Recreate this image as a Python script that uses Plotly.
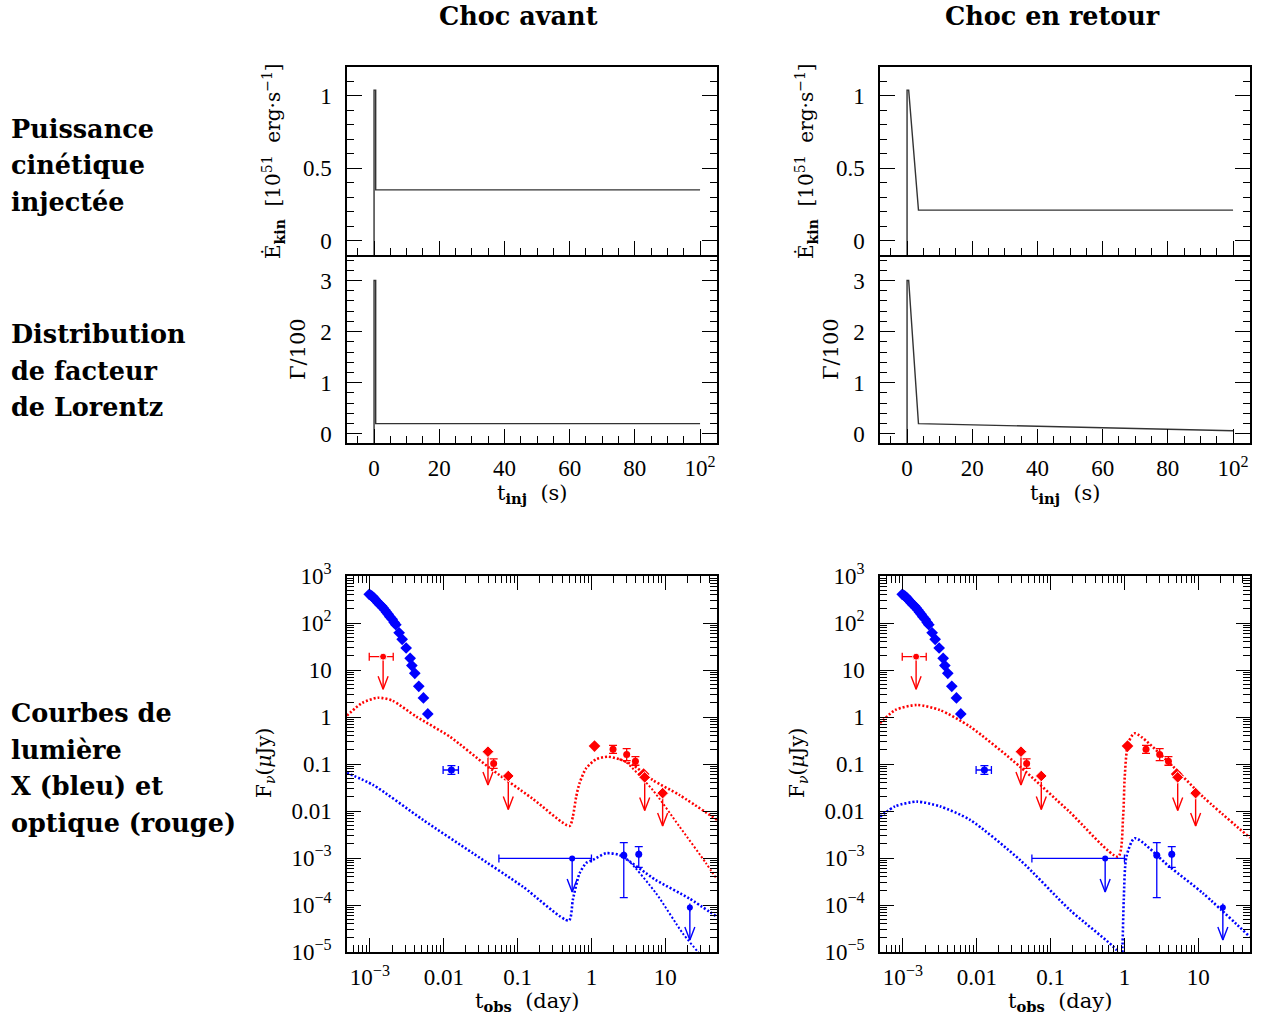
import numpy as np
import plotly.graph_objects as go

W, H = 1261, 1020
FONT = "DejaVu Serif"
TICKFONT = "Liberation Serif"
RED, BLUE, GREY = "#ff0000", "#0000ff", "#333333"

# ---------------- injection profiles (t_inj in s) ----------------
tinj_fwd = [0, 0, 0.5, 0.5, 100]
ekin_fwd = [-0.1, 1.04, 1.04, 0.35, 0.35]
gam_fwd = [-0.18, 3.0, 3.0, 0.2, 0.2]

tinj_rev = [0, 0, 0.5, 3.5, 100]
ekin_rev = [-0.1, 1.04, 1.04, 0.21, 0.21]
gam_rev = [-0.18, 3.0, 3.0, 0.2, 0.06]

# ---------------- light-curve data (t in day, F in microJy) ----------------
xray_t = [0.000980, 0.001023, 0.001064, 0.001122, 0.001170, 0.001230, 0.001297,
          0.001365, 0.001439, 0.001514, 0.001596, 0.001679, 0.001770, 0.001862,
          0.002004, 0.002133, 0.002244, 0.002489, 0.002735, 0.003097, 0.003508,
          0.003698, 0.004055, 0.004592, 0.005309, 0.006081]
xray_f = [407, 389, 375, 347, 319, 295, 267, 245, 230, 209, 189, 170, 153, 136,
          120, 103, 92, 62, 45, 29.4, 17.7, 12.4, 8.5, 4.5, 2.54, 1.16]

# X-ray detections with error bars
xdet_t = [0.0127, 2.74, 4.37]
xdet_f = [0.0745, 1.14e-3, 1.20e-3]
xdet_fhi = [0.0920, 2.12e-3, 1.74e-3]
xdet_flo = [0.0604, 1.43e-4, 6.3e-4]
xdet_thi = [0.0158, 2.74, 4.37]
xdet_tlo = [0.0098, 2.74, 4.37]

# X-ray upper limits
xul_t = [0.548, 21.5]
xul_f = [9.8e-4, 8.9e-5]
xul_tip = [1.9e-4, 1.8e-5]
xul_tlo = [0.0558, 21.5]
xul_thi = [1.0, 21.5]

# optical detections (circles with error bars)
odet_t = [0.0474, 1.96, 3.0, 3.94]
odet_f = [0.103, 0.205, 0.160, 0.114]
odet_fhi = [0.128, 0.250, 0.212, 0.143]
odet_flo = [0.081, 0.169, 0.118, 0.094]
# optical detections (diamonds)
odia_t = [1.10, 5.09]
odia_f = [0.241, 0.061]

# optical upper limits
oul_t = [0.00151, 0.0397, 0.0748, 5.26, 9.2]
oul_f = [19.2, 0.183, 0.0556, 0.052, 0.024]
oul_tip = [3.9, 0.0357, 0.0108, 0.0102, 0.0048]
oul_tlo = [0.00098, 0.0397, 0.0748, 5.26, 9.2]
oul_thi = [0.00207, 0.0397, 0.0748, 5.26, 9.2]
oul_sym = ["circle", "diamond", "diamond", "diamond", "diamond"]

# ---------------- model curves ----------------
# forward shock
fwd_red_t = [4.9e-4, 7.9e-4, 1.29e-3, 2.0e-3, 4.28e-3, 0.0121, 0.0397, 0.158, 0.505,
             0.56, 0.621, 0.689, 0.847, 1.156, 1.66, 2.39, 3.62, 6.75, 15.5, 50.1]
fwd_red_f = [1.07, 2.0, 2.57, 2.24, 1.01, 0.381, 0.0877, 0.0185, 4.8e-3,
             7.6e-3, 0.020, 0.039, 0.081, 0.126, 0.143, 0.126, 0.0955, 0.0457, 0.0219, 6.5e-3]
fwd_red2_t = [2.39, 2.88, 6.75, 15.5, 35.5, 50.1]
fwd_red2_f = [0.126, 0.112, 0.028, 4.7e-3, 7.8e-4, 3.5e-4]

fwd_blue_t = [4.9e-4, 1.11e-3, 5.25e-3, 0.0249, 0.118, 0.494, 0.56, 0.689, 0.847,
              1.04, 1.58, 2.39, 7.48, 21.1, 50.1]
fwd_blue_f = [0.0646, 0.0357, 6.46e-3, 1.26e-3, 2.45e-4, 4.68e-5, 1.29e-4, 4.68e-4, 7.8e-4,
              9.1e-4, 1.26e-3, 1.15e-3, 3.39e-4, 1.38e-4, 5.6e-5]
fwd_blue2_t = [2.51, 3.16, 7.48, 17.2, 27.4, 33.1]
fwd_blue2_f = [1.12e-3, 8.9e-4, 1.78e-4, 2.5e-5, 1.02e-5, 7.1e-6]

# reverse shock
rev_red_t = [4.9e-4, 7.9e-4, 1.55e-3, 3.16e-3, 8.13e-3, 0.0385, 0.178, 0.82,
             0.959, 1.009, 1.122, 1.38, 4.1, 11.56, 50.1]
rev_red_f = [0.741, 1.41, 1.80, 1.41, 0.622, 0.0877, 9.8e-3, 1.07e-3,
             7.6e-3, 0.0537, 0.275, 0.449, 0.1035, 0.0201, 2.69e-3]

rev_blue_t = [4.9e-4, 7.9e-4, 1.55e-3, 3.16e-3, 8.13e-3, 0.0385, 0.183, 0.782, 0.851,
              0.923, 0.94, 0.979, 1.064, 1.38, 4.1, 11.56, 50.1]
rev_blue_f = [7.6e-3, 0.0126, 0.0158, 0.0126, 6.46e-3, 9.1e-4, 7.8e-5, 1.1e-5, 7.9e-6,
              7.9e-6, 1.29e-5, 1.29e-4, 1.07e-3, 2.63e-3, 6.46e-4, 1.78e-4, 2.09e-5]

# ---------------- tick labels ----------------
tinj_ticks = [0, 20, 40, 60, 80, 100]
tinj_text = ["0", "20", "40", "60", "80", "10<sup>2</sup>"]
tobs_ticks = [1e-3, 1e-2, 1e-1, 1, 10]
tobs_text = ["10<sup>\u22123</sup>", "0.01", "0.1", "1", "10"]
flux_ticks = [1e3, 1e2, 10, 1, 0.1, 0.01, 1e-3, 1e-4, 1e-5]
flux_text = ["10<sup>3</sup>", "10<sup>2</sup>", "10", "1", "0.1", "0.01",
             "10<sup>\u22123</sup>", "10<sup>\u22124</sup>", "10<sup>\u22125</sup>"]

# ---------------- layout geometry ----------------
cols = {"L": (347, 717), "R": (880, 1250)}
rows = {"E": (67, 255), "G": (255, 443), "F": (576, 952)}
X_RANGE_LOG = [-3.31, 1.70]
Y_RANGE_LOG = [-5, 3]


def dx(c):
    l, r = cols[c]
    return [l / W, r / W]


def dy(rw):
    t, b = rows[rw]
    return [1 - b / H, 1 - t / H]


fig = go.Figure()

tickfont = dict(family=TICKFONT, size=23, color="black")
base_ax = dict(showline=True, linecolor="black", linewidth=1.5, showgrid=False,
               zeroline=False, ticks="inside", tickcolor="black", tickwidth=1.2,
               tickfont=tickfont, automargin=False)

panels = [(1, "L", "E"), (2, "L", "G"), (3, "L", "F"),
          (4, "R", "E"), (5, "R", "G"), (6, "R", "F")]

for idx, c, rw in panels:
    xn = "xaxis" if idx == 1 else f"xaxis{idx}"
    yn = "yaxis" if idx == 1 else f"yaxis{idx}"
    anchor_x = "x" if idx == 1 else f"x{idx}"
    anchor_y = "y" if idx == 1 else f"y{idx}"
    if rw in ("E", "G"):
        xa = dict(base_ax, domain=dx(c), anchor=anchor_y, mirror=(rw == "E"),
                  range=[-8.3, 105.2], tickmode="array", tickvals=tinj_ticks,
                  ticktext=tinj_text, ticklen=14, ticklabelstandoff=4,
                  minor=dict(ticks="inside", ticklen=7, dtick=5, tick0=0,
                             tickcolor="black", tickwidth=1.1, showgrid=False),
                  showticklabels=(rw == "G"))
        if rw == "E":
            ya = dict(base_ax, domain=dy(rw), anchor=anchor_x, mirror="allticks",
                      range=[-0.1, 1.2], tickmode="array", tickvals=[0, 0.5, 1],
                      ticktext=["0", "0.5", "1"], ticklen=15, ticklabelstandoff=9,
                      minor=dict(ticks="inside", ticklen=7, dtick=0.1, tick0=0,
                                 tickcolor="black", tickwidth=1.1, showgrid=False))
        else:
            ya = dict(base_ax, domain=dy(rw), anchor=anchor_x, mirror="allticks",
                      range=[-0.18, 3.5], tickmode="array", tickvals=[0, 1, 2, 3],
                      ticktext=["0", "1", "2", "3"], ticklen=15, ticklabelstandoff=9,
                      minor=dict(ticks="inside", ticklen=7, dtick=0.2, tick0=0,
                                 tickcolor="black", tickwidth=1.1, showgrid=False))
    else:
        xa = dict(base_ax, domain=dx(c), anchor=anchor_y, mirror="allticks",
                  type="log", range=X_RANGE_LOG, tickmode="array",
                  tickvals=tobs_ticks, ticktext=tobs_text, ticklen=14, ticklabelstandoff=4,
                  minor=dict(ticks="inside", ticklen=7, dtick="D1",
                             tickcolor="black", tickwidth=1.1, showgrid=False))
        ya = dict(base_ax, domain=dy(rw), anchor=anchor_x, mirror="allticks",
                  type="log", range=Y_RANGE_LOG, tickmode="array",
                  tickvals=flux_ticks, ticktext=flux_text, ticklen=14, ticklabelstandoff=9,
                  minor=dict(ticks="inside", ticklen=7, dtick="D1",
                             tickcolor="black", tickwidth=1.1, showgrid=False))
    fig.layout[xn] = xa
    fig.layout[yn] = ya


def ax_names(idx):
    return ("x" if idx == 1 else f"x{idx}", "y" if idx == 1 else f"y{idx}")


def add_line(idx, x, y, color=GREY, width=1.4, dash=None, shape="linear"):
    xr, yr = ax_names(idx)
    fig.add_trace(go.Scatter(x=x, y=y, mode="lines", xaxis=xr, yaxis=yr,
                             line=dict(color=color, width=width, dash=dash, shape=shape,
                                       smoothing=0.7 if shape == "spline" else None),
                             hoverinfo="skip", showlegend=False))


# injection panels
add_line(1, tinj_fwd, ekin_fwd)
add_line(2, tinj_fwd, gam_fwd)
add_line(4, tinj_rev, ekin_rev)
add_line(5, tinj_rev, gam_rev)

DOT = "2px,2px"
add_line(3, fwd_red_t, fwd_red_f, RED, 2.6, DOT, "spline")
add_line(3, fwd_red2_t, fwd_red2_f, RED, 2.0, DOT, "spline")
add_line(3, fwd_blue_t, fwd_blue_f, BLUE, 2.6, DOT, "spline")
add_line(3, fwd_blue2_t, fwd_blue2_f, BLUE, 2.0, DOT, "spline")
add_line(6, rev_red_t, rev_red_f, RED, 2.6, DOT, "spline")
add_line(6, rev_blue_t, rev_blue_f, BLUE, 2.6, DOT, "spline")


def minus(v, lo):
    return [a - b for a, b in zip(v, lo)]


def plus(v, hi):
    return [b - a for a, b in zip(v, hi)]


# arrow-head size in decades (about 5 px half-width, 13 px length)
col_px = cols["L"][1] - cols["L"][0]
row_px = rows["F"][1] - rows["F"][0]
HW = 5.0 * (X_RANGE_LOG[1] - X_RANGE_LOG[0]) / col_px
HL = 13.0 * (Y_RANGE_LOG[1] - Y_RANGE_LOG[0]) / row_px


def arrows(ts, fs, tips):
    xs, ys = [], []
    for t, f, tip in zip(ts, fs, tips):
        xs += [t, t, None, t * 10 ** (-HW), t, t * 10 ** HW, None]
        ys += [f, tip, None, tip * 10 ** HL, tip, tip * 10 ** HL, None]
    return xs, ys


for idx in (3, 6):
    xr, yr = ax_names(idx)
    for ts, fs, tips, col in ((xul_t, xul_f, xul_tip, BLUE), (oul_t, oul_f, oul_tip, RED)):
        axs, ays = arrows(ts, fs, tips)
        fig.add_trace(go.Scatter(x=axs, y=ays, mode="lines", xaxis=xr, yaxis=yr,
                                 line=dict(color=col, width=1.4), hoverinfo="skip",
                                 showlegend=False))
    fig.add_trace(go.Scatter(x=xray_t, y=xray_f, mode="markers", xaxis=xr, yaxis=yr,
                             marker=dict(symbol="diamond", size=9, color=BLUE, opacity=1),
                             showlegend=False))
    fig.add_trace(go.Scatter(
        x=xdet_t, y=xdet_f, mode="markers", xaxis=xr, yaxis=yr,
        marker=dict(symbol="circle", size=7, color=BLUE, opacity=1),
        error_y=dict(type="data", symmetric=False, array=plus(xdet_f, xdet_fhi),
                     arrayminus=minus(xdet_f, xdet_flo), color=BLUE, thickness=1.3, width=4),
        error_x=dict(type="data", symmetric=False, array=plus(xdet_t, xdet_thi),
                     arrayminus=minus(xdet_t, xdet_tlo), color=BLUE, thickness=1.3, width=4),
        showlegend=False))
    fig.add_trace(go.Scatter(
        x=xul_t, y=xul_f, mode="markers", xaxis=xr, yaxis=yr,
        marker=dict(symbol="circle", size=6, color=BLUE, opacity=1),
        error_x=dict(type="data", symmetric=False, array=plus(xul_t, xul_thi),
                     arrayminus=minus(xul_t, xul_tlo), color=BLUE, thickness=1.3, width=4),
        showlegend=False))
    fig.add_trace(go.Scatter(
        x=odet_t, y=odet_f, mode="markers", xaxis=xr, yaxis=yr,
        marker=dict(symbol="circle", size=7, color=RED, opacity=1),
        error_y=dict(type="data", symmetric=False, array=plus(odet_f, odet_fhi),
                     arrayminus=minus(odet_f, odet_flo), color=RED, thickness=1.3, width=4),
        showlegend=False))
    fig.add_trace(go.Scatter(x=odia_t, y=odia_f, mode="markers", xaxis=xr, yaxis=yr,
                             marker=dict(symbol="diamond", size=9, color=RED, opacity=1),
                             showlegend=False))
    fig.add_trace(go.Scatter(
        x=oul_t, y=oul_f, mode="markers", xaxis=xr, yaxis=yr,
        marker=dict(symbol=oul_sym, size=[7 if s == "circle" else 9 for s in oul_sym],
                    color=RED, opacity=1),
        error_x=dict(type="data", symmetric=False, array=plus(oul_t, oul_thi),
                     arrayminus=minus(oul_t, oul_tlo), color=RED, thickness=1.3, width=4),
        showlegend=False))


# ---------------- text ----------------
def txt(x, y, s, size=19, xanchor="center", angle=0, bold=False, family=FONT):
    fig.add_annotation(x=x / W, y=1 - y / H, xref="paper", yref="paper", text=s,
                       showarrow=False, xanchor=xanchor, yanchor="middle", textangle=angle,
                       font=dict(family=family, size=size, color="black",
                                 weight="bold" if bold else "normal"))


titles = [("Choc avant", 518), ("Choc en retour", 1052)]
for s, x in titles:
    txt(x, 16, s, size=25.5, bold=True)

row_labels = [("Puissance", 129), ("cinétique", 165), ("injectée", 202),
              ("Distribution", 334), ("de facteur", 371), ("de Lorentz", 407),
              ("Courbes de", 713), ("lumière", 750), ("X (bleu) et", 786),
              ("optique (rouge)", 823)]
for s, y in row_labels:
    txt(9, y, s, size=25.5, xanchor="left", bold=True)

for off in (0, 533):
    txt(273 + off, 161, "Ė<sub><b>kin</b></sub>  [10<sup>51</sup>  erg·s<sup>−1</sup>]",
        size=20, angle=-90)
    txt(298 + off, 349, "Γ/100", size=21, angle=-90)
    txt(265 + off, 763, "F<sub><i>ν</i></sub>(<i>μ</i>Jy)", size=20, angle=-90)
    txt(532 + off, 494, "t<sub><b>inj</b></sub>  (s)", size=21)
    txt(527 + off, 1002, "t<sub><b>obs</b></sub>  (day)", size=21)

fig.update_layout(template="none", width=W, height=H, autosize=False,
                  margin=dict(l=0, r=0, t=0, b=0, pad=0),
                  paper_bgcolor="white", plot_bgcolor="white", showlegend=False)

fig.write_html(
    "out.html",
    config={"displayModeBar": False, "responsive": False},
    post_script=("document.documentElement.style.margin='0';"
                 "document.body.style.margin='0';document.body.style.overflow='hidden';"
                 "var d=document.getElementById('{plot_id}');"
                 "d.style.position='absolute';d.style.left='0px';d.style.top='0px';"),
)
